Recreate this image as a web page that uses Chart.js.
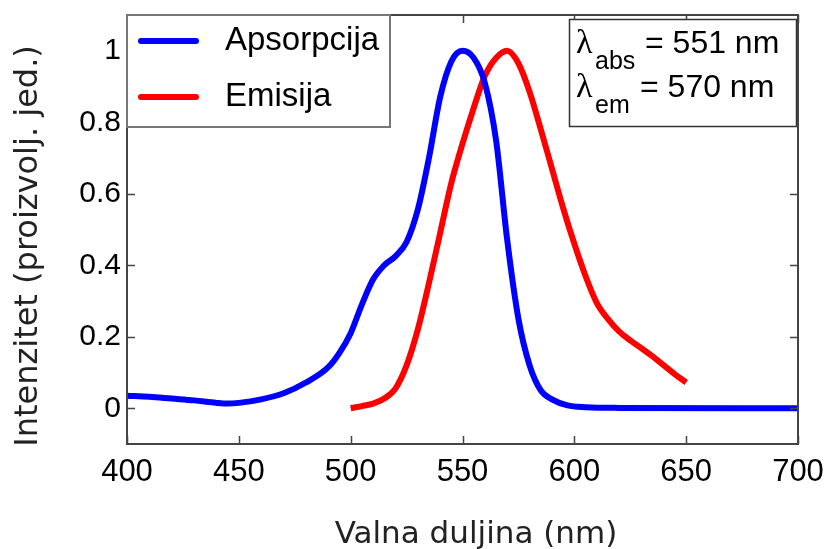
<!DOCTYPE html>
<html>
<head>
<meta charset="utf-8">
<script src="https://cdn.jsdelivr.net/npm/chart.js@4.4.0/dist/chart.umd.min.js"></script>
<style>
  html, body { margin: 0; padding: 0; background: #fff; }
  #wrap { width: 828px; height: 549px; }
</style>
</head>
<body>
<div id="wrap"><canvas id="spec" width="828" height="549"></canvas></div>
<script>
// absorption spectrum (blue)
const absX = [400, 410, 420, 430, 440, 445, 450, 460, 470, 480, 490, 495, 500, 505, 510, 515, 520, 525, 530, 535, 540, 545, 550, 555, 560, 565, 570, 575, 580, 585, 590, 597, 605, 620, 700];
const absY = [0.035, 0.032, 0.027, 0.022, 0.015, 0.013, 0.015, 0.025, 0.042, 0.072, 0.115, 0.155, 0.21, 0.29, 0.36, 0.40, 0.425, 0.465, 0.555, 0.70, 0.87, 0.97, 1.0, 0.98, 0.91, 0.75, 0.47, 0.25, 0.12, 0.05, 0.025, 0.008, 0.003, 0.001, 0.0];

// emission spectrum (red)
const emX = [500, 505, 510, 515, 520, 525, 530, 535, 540, 545, 550, 555, 560, 565, 570, 575, 580, 585, 590, 595, 600, 605, 610, 615, 620, 625, 630, 635, 640, 645, 650];
const emY = [0.0, 0.006, 0.013, 0.027, 0.055, 0.12, 0.22, 0.35, 0.49, 0.63, 0.74, 0.84, 0.93, 0.98, 1.0, 0.965, 0.885, 0.78, 0.67, 0.56, 0.46, 0.37, 0.295, 0.25, 0.215, 0.19, 0.168, 0.145, 0.12, 0.095, 0.072];

const xTicks = [400, 450, 500, 550, 600, 650, 700];
const yTicks = [0, 0.2, 0.4, 0.6, 0.8, 1];

const seriesNames = ['Apsorpcija', 'Emisija'];
const seriesColors = ['#0000ff', '#ff0000'];

function toPoints(xs, ys) {
  return xs.map((x, i) => ({ x: x, y: ys[i] }));
}

// frame, inward ticks, legend, peak box and axis titles
const decor = {
  id: 'decor',
  afterDraw(chart) {
    const c = chart.ctx;
    const a = chart.chartArea;
    const sx = chart.scales.x, sy = chart.scales.y;
    c.save();
    c.strokeStyle = '#444';
    c.lineWidth = 2;
    c.strokeRect(a.left, a.top, a.right - a.left, a.bottom - a.top);

    c.lineWidth = 1.5;
    c.beginPath();
    xTicks.forEach(v => {
      const px = Math.round(sx.getPixelForValue(v)) + 0.5;
      c.moveTo(px, a.bottom); c.lineTo(px, a.bottom - 8);
      c.moveTo(px, a.top); c.lineTo(px, a.top + 8);
    });
    yTicks.forEach(v => {
      const py = Math.round(sy.getPixelForValue(v)) + 0.5;
      c.moveTo(a.left, py); c.lineTo(a.left + 8, py);
      c.moveTo(a.right, py); c.lineTo(a.right - 8, py);
    });
    c.stroke();

    // legend
    c.fillStyle = '#fff';
    c.fillRect(a.left, a.top, 263, 112);
    c.strokeStyle = '#777';
    c.lineWidth = 2;
    c.strokeRect(a.left, a.top, 263, 112);
    c.lineCap = 'round';
    c.lineWidth = 6;
    const rows = [41, 97];
    rows.forEach((y, i) => {
      c.strokeStyle = seriesColors[i];
      c.beginPath(); c.moveTo(141, y); c.lineTo(196, y); c.stroke();
      c.fillStyle = '#000';
      c.font = '33px "Liberation Sans", Arial, sans-serif';
      c.textAlign = 'left';
      c.textBaseline = 'alphabetic';
      c.fillText(seriesNames[i], 225, y + 9);
    });

    // peak wavelengths box
    c.fillStyle = '#fff';
    c.fillRect(569, 19, 228, 108);
    c.strokeStyle = '#333';
    c.lineWidth = 1.5;
    c.strokeRect(569.5, 19.5, 227, 107);
    c.fillStyle = '#000';
    const peaks = [['abs', '= 551 nm', 53, 645], ['em', '= 570 nm', 97, 640]];
    peaks.forEach(p => {
      c.font = '34px "Liberation Serif", serif';
      c.fillText('\u03bb', 576, p[2]);
      c.font = '25px "Liberation Sans", Arial, sans-serif';
      c.fillText(p[0], 595, p[2] + 16);
      c.font = '32px "Liberation Sans", Arial, sans-serif';
      c.fillText(p[1], p[3], p[2]);
    });

    // axis titles
    c.fillStyle = '#222';
    c.font = '31px "DejaVu Sans", sans-serif';
    c.textAlign = 'center';
    c.fillText('Valna duljina (nm)', 476, 543);
    c.translate(37, 246);
    c.rotate(-Math.PI / 2);
    c.font = '32px "DejaVu Sans", sans-serif';
    c.fillText('Intenzitet (proizvolj. jed.)', 0, 0);
    c.restore();
  }
};

const chart = new Chart(document.getElementById('spec'), {
  type: 'line',
  data: {
    datasets: [
      { label: seriesNames[0], data: toPoints(absX, absY), borderColor: seriesColors[0], borderWidth: 6, pointRadius: 0, cubicInterpolationMode: 'monotone', borderCapStyle: 'butt' },
      { label: seriesNames[1], data: toPoints(emX, emY), borderColor: seriesColors[1], borderWidth: 6, pointRadius: 0, cubicInterpolationMode: 'monotone', borderCapStyle: 'butt' }
    ]
  },
  options: {
    responsive: false,
    animation: false,
    layout: { padding: { top: 15, right: 30, left: 0, bottom: 0 } },
    plugins: { legend: { display: false }, tooltip: { enabled: false } },
    scales: {
      x: {
        type: 'linear',
        min: 400, max: 700,
        afterFit: s => { s.height = 105; s.paddingLeft = 0; s.paddingRight = 0; },
        afterBuildTicks: s => { s.ticks = xTicks.map(v => ({ value: v })); },
        grid: { display: false, drawTicks: false },
        border: { display: false },
        ticks: {
          padding: 10,
          color: '#000',
          font: { family: '"Liberation Sans Narrow", "Liberation Sans", Arial', size: 31 },
          maxRotation: 0
        }
      },
      y: {
        min: -0.1, max: 1.1,
        afterFit: s => { s.width = 127; s.paddingTop = 0; s.paddingBottom = 0; },
        afterBuildTicks: s => { s.ticks = yTicks.map(v => ({ value: v })); },
        grid: { display: false, drawTicks: false },
        border: { display: false },
        ticks: {
          padding: 6,
          color: '#000',
          font: { family: '"Liberation Sans", Arial', size: 30 },
          callback: v => String(+v.toFixed(1))
        }
      }
    }
  },
  plugins: [decor]
});
</script>
</body>
</html>
